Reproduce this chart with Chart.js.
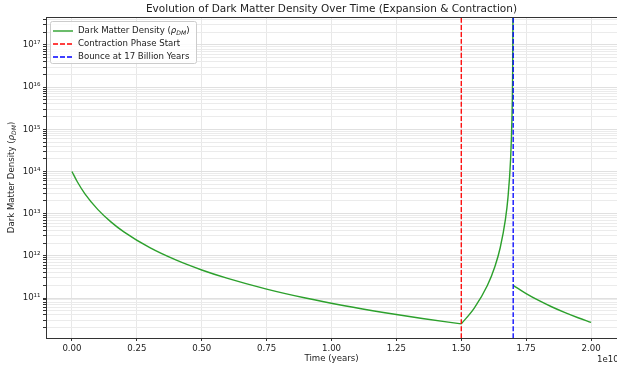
<!DOCTYPE html>
<html>
<head>
<meta charset="utf-8">
<title>Evolution of Dark Matter Density Over Time</title>
<script src="https://cdn.jsdelivr.net/npm/chart.js@4"></script>
<style>
  html, body { margin: 0; padding: 0; background: #fff; overflow: hidden; }
  canvas { display: block; }
</style>
</head>
<body>
<canvas id="chart" width="617" height="374"></canvas>
<script>
// Zeit in Einheiten von 1e10 Jahren (Achsen-Offset "1e10"), Dichte als rho_DM
const tExpansion   = [0.00, 0.02, 0.05, 0.10, 0.15, 0.20, 0.30, 0.40, 0.50, 0.60, 0.75, 0.90, 1.05, 1.20, 1.35, 1.50];
const rhoExpansion = [1.0e14, 5.79e13, 2.96e13, 1.25e13, 6.4e12, 3.7e12, 1.56e12, 8.0e11, 4.63e11, 2.92e11, 1.63e11, 1.0e11, 6.57e10, 4.55e10, 3.28e10, 2.44e10];

const tContraction   = [1.50, 1.55, 1.60, 1.63, 1.65, 1.67, 1.68, 1.69, 1.695, 1.698, 1.6995];
const rhoContraction = [2.44e10, 5.78e10, 1.95e11, 5.69e11, 1.56e12, 7.22e12, 2.44e13, 1.95e14, 1.56e15, 2.44e16, 1.56e18];

const tRebound   = [1.70, 1.75, 1.80, 1.85, 1.90, 1.95, 2.00];
const rhoRebound = [2.0e11, 1.28e11, 8.67e10, 6.14e10, 4.51e10, 3.41e10, 2.64e10];

const contractionStart = 1.5;
const bounceTime       = 1.7;

const xTicks   = [0.00, 0.25, 0.50, 0.75, 1.00, 1.25, 1.50, 1.75, 2.00];
const yDecades = [11, 12, 13, 14, 15, 16, 17];
const xRange   = [-0.1, 2.1];
const yRange   = [1.13e10, 4.6e17];

const FONT = "'DejaVu Sans', 'Liberation Sans', sans-serif";
const TEXT = "#222";
const SUP  = "⁰¹²³⁴⁵⁶⁷⁸⁹";
const toSup = n => String(n).split("").map(d => SUP[+d]).join("");

const densityLabel = [
  { t: "Dark Matter Density (" },
  { t: "ρ", italic: true },
  { t: "DM", italic: true, sub: true },
  { t: ")" }
];

// log-Achse: beschriftete Dekaden + Zwischenstriche 2..9
function buildYTicks() {
  const ticks = [];
  const e0 = Math.floor(Math.log10(yRange[0]));
  const e1 = Math.ceil(Math.log10(yRange[1]));
  for (let e = e0; e <= e1; e++) {
    for (let m = 1; m <= 9; m++) {
      const v = m * Math.pow(10, e);
      if (v >= yRange[0] && v <= yRange[1]) {
        ticks.push({ value: v, major: m === 1 && yDecades.includes(e), exp: e });
      }
    }
  }
  return ticks;
}

const pts = (ts, ys) => ts.map((t, i) => ({ x: t, y: ys[i] }));
const vline = x => [{ x, y: yRange[0] }, { x, y: yRange[1] }];

function richFont(p, size) {
  return (p.italic ? "italic " : "") + (p.sub ? size * 0.7 : size) + "px " + FONT;
}
function richWidth(ctx, parts, size) {
  let w = 0;
  parts.forEach(p => { ctx.font = richFont(p, size); w += ctx.measureText(p.t).width; });
  return w;
}
function drawRich(ctx, parts, x, y, size) {
  ctx.textAlign = "left";
  ctx.textBaseline = "middle";
  parts.forEach(p => {
    ctx.font = richFont(p, size);
    ctx.fillText(p.t, x, y + (p.sub ? size * 0.28 : 0));
    x += ctx.measureText(p.t).width;
  });
}

const decorations = {
  id: "decorations",
  afterDraw(chart) {
    const { ctx, chartArea: a } = chart;
    const cx = (a.left + a.right) / 2;
    const cy = (a.top + a.bottom) / 2;
    ctx.save();

    // Rahmen
    ctx.strokeStyle = "#333";
    ctx.lineWidth = 1;
    ctx.setLineDash([]);
    ctx.strokeRect(a.left + 0.5, a.top + 0.5, a.right - a.left, a.bottom - a.top);

    ctx.fillStyle = TEXT;
    // Titel
    ctx.font = "10.5px " + FONT;
    ctx.textAlign = "center";
    ctx.textBaseline = "middle";
    ctx.fillText("Evolution of Dark Matter Density Over Time (Expansion & Contraction)", cx, 9.5);

    // x-Titel und Offset
    ctx.font = "8.6px " + FONT;
    ctx.fillText("Time (years)", cx, 358.5);
    ctx.textAlign = "left";
    ctx.fillText("1e10", 597, 359.5);

    // y-Titel
    ctx.save();
    ctx.translate(12, cy);
    ctx.rotate(-Math.PI / 2);
    const w = richWidth(ctx, densityLabel, 8.6);
    drawRich(ctx, densityLabel, -w / 2, 0, 8.6);
    ctx.restore();

    // Legende
    const lx = 50, ly = 21, lw = 146, lh = 42;
    ctx.fillStyle = "rgba(255,255,255,0.85)";
    ctx.strokeStyle = "#cccccc";
    ctx.beginPath();
    ctx.roundRect(lx + 0.5, ly + 0.5, lw, lh, 2);
    ctx.fill();
    ctx.stroke();

    const entries = chart.data.datasets.filter(d => d.label);
    entries.forEach((d, i) => {
      const y = ly + 10 + i * 13;
      ctx.strokeStyle = d.borderColor;
      ctx.lineWidth = d.borderWidth;
      ctx.setLineDash(d.borderDash || []);
      ctx.beginPath();
      ctx.moveTo(lx + 3, y);
      ctx.lineTo(lx + 23, y);
      ctx.stroke();
      ctx.setLineDash([]);
      ctx.fillStyle = TEXT;
      drawRich(ctx, d.richLabel || [{ t: d.label }], lx + 28, y, 8.6);
    });

    ctx.restore();
  }
};

const green = "#2ca02c";

new Chart(document.getElementById("chart"), {
  type: "line",
  data: {
    datasets: [
      {
        label: "Dark Matter Density (ρDM)",
        richLabel: densityLabel,
        data: pts(tExpansion, rhoExpansion),
        borderColor: green, borderWidth: 1.4, order: 3
      },
      { data: pts(tContraction, rhoContraction), borderColor: green, borderWidth: 1.4, order: 3 },
      { data: pts(tRebound, rhoRebound), borderColor: green, borderWidth: 1.4, order: 3 },
      {
        label: "Contraction Phase Start",
        data: vline(contractionStart),
        borderColor: "#ff0000", borderWidth: 1.3, borderDash: [5, 2], order: 2
      },
      {
        label: "Bounce at 17 Billion Years",
        data: vline(bounceTime),
        borderColor: "#0000ff", borderWidth: 1.3, borderDash: [5, 2], order: 1
      }
    ]
  },
  options: {
    responsive: false,
    animation: false,
    devicePixelRatio: 1,
    layout: { padding: { top: 17, left: 0, right: 0, bottom: 0 } },
    elements: {
      point: { radius: 0, hoverRadius: 0 },
      line: { cubicInterpolationMode: "monotone", fill: false }
    },
    plugins: {
      legend: { display: false },
      title: { display: false },
      tooltip: { enabled: false }
    },
    scales: {
      x: {
        type: "linear",
        min: xRange[0],
        max: xRange[1],
        afterBuildTicks: s => { s.ticks = xTicks.map(v => ({ value: v })); },
        afterFit: s => { s.height = 36; },
        border: { display: false },
        grid: { color: "#e8e8e8", lineWidth: 1, tickLength: 3, tickColor: "#333" },
        ticks: {
          autoSkip: false, maxRotation: 0, padding: 3,
          color: TEXT, font: { family: FONT, size: 8.6 },
          callback: v => v.toFixed(2)
        }
      },
      y: {
        type: "logarithmic",
        min: yRange[0],
        max: yRange[1],
        afterBuildTicks: s => { s.ticks = buildYTicks(); },
        afterFit: s => { s.width = 46; },
        border: { display: false },
        grid: {
          color: c => (c.tick && c.tick.major ? "#e0e0e0" : "#ebebeb"),
          lineWidth: 1, tickLength: 3, tickColor: "#333"
        },
        ticks: {
          autoSkip: false, padding: 2.5,
          color: TEXT, font: { family: FONT, size: 8.6 },
          callback: (v, i, ticks) => (ticks[i].major ? "10" + toSup(ticks[i].exp) : "")
        }
      }
    }
  },
  plugins: [decorations]
});
</script>
</body>
</html>
